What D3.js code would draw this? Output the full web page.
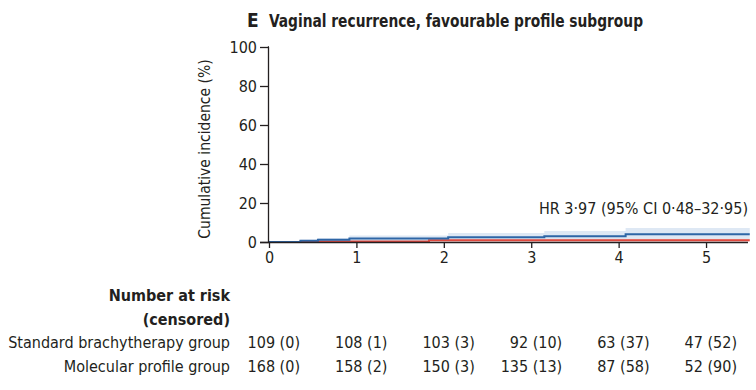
<!DOCTYPE html>
<html><head><meta charset="utf-8">
<script src="https://cdn.jsdelivr.net/npm/d3@7"></script>
<style>
body{margin:0;background:#fff;}
text{font-family:"Liberation Sans Narrow","DejaVu Sans Condensed",sans-serif;fill:#231f20;}
</style></head><body>
<svg id="c" width="756" height="390"></svg>
<script>
const xTicks = [0,1,2,3,4,5];
const yTicks = [0,20,40,60,80,100];
// step curves: [time (years), cumulative incidence (%)]
const standardCurve = [[0,0],[0.36,0.6],[0.56,1.1],[0.92,1.8],[2.05,2.4],[3.15,3.0],[4.08,4.0],[5.5,4.0]];
const standardUpper = [[0,0],[0.36,1.2],[0.56,1.9],[0.92,3.3],[2.05,4.6],[3.15,5.6],[4.08,7.2],[5.5,7.2]];
const standardLower = [[0,0],[0.36,0],[0.56,0.2],[0.92,0.5],[2.05,0.9],[3.15,1.2],[4.08,1.7],[5.5,1.7]];
const molecularCurve = [[0,0],[0.36,0.3],[1.83,0.9],[5.5,0.9]];
const molecularUpper = [[0,0],[0.36,0.8],[1.83,1.8],[5.5,1.8]];
const molecularLower = [[0,0],[0.36,0],[1.83,0.2],[5.5,0.2]];
const riskGroups = ["Standard brachytherapy group","Molecular profile group"];
const riskStandard = ["109 (0)","108 (1)","103 (3)","92 (10)","63 (37)","47 (52)"];
const riskMolecular = ["168 (0)","158 (2)","150 (3)","135 (13)","87 (58)","52 (90)"];

const svg = d3.select("#c");
const x = d3.scaleLinear().domain([0,5.48]).range([269,748]);
const y = d3.scaleLinear().domain([0,100]).range([242,47]);

// title
svg.append("text").attr("x",247).attr("y",27).style("font-size","19px").style("font-weight","bold").text("E");
svg.append("text").attr("x",269).attr("y",27).style("font-size","17px").style("font-weight","bold")
  .attr("textLength",374).attr("lengthAdjust","spacingAndGlyphs")
  .text("Vaginal recurrence, favourable profile subgroup");

// bands
const area = (up, lo) => d3.area().curve(d3.curveStepAfter).x(d=>x(d[0])).y1(d=>y(d[1])).y0((d,i)=>y(lo[i][1]));
svg.append("path").datum(molecularUpper).attr("d", area(molecularUpper, molecularLower)).attr("fill","#f5d3cf").attr("opacity",0.9);
svg.append("path").datum(standardUpper).attr("d", area(standardUpper, standardLower)).attr("fill","#d6e2f1").attr("opacity",0.8);

const line = d3.line().curve(d3.curveStepAfter).x(d=>x(d[0])).y(d=>y(d[1]));
svg.append("path").datum(molecularCurve).attr("d",line).attr("fill","none").attr("stroke","#e0483e").attr("stroke-width",2);
svg.append("path").datum(standardCurve).attr("d",line).attr("fill","none").attr("stroke","#2e66a6").attr("stroke-width",2);

// axes
const ya = svg.append("g").attr("transform","translate(269,0)")
  .call(d3.axisLeft(y).tickValues(yTicks).tickSize(9).tickPadding(3));
ya.select(".domain").attr("d","M0,47H-0.5V242").attr("stroke","#231f20").attr("stroke-width",1.3);
ya.selectAll(".tick line").attr("stroke","#231f20").attr("stroke-width",1.3);
ya.selectAll(".tick text").style("font-size","16px").style("font-family","Liberation Sans Narrow, DejaVu Sans Condensed, sans-serif").attr("fill","#231f20");

const xa = svg.append("g").attr("transform","translate(0,242)")
  .call(d3.axisBottom(x).tickValues(xTicks).tickSize(6).tickPadding(4).tickFormat(d3.format("d")));
xa.select(".domain").attr("d","M260,0.5H748").attr("stroke","#231f20").attr("stroke-width",1.3);
xa.selectAll(".tick line").attr("stroke","#231f20").attr("stroke-width",1.3);
xa.selectAll(".tick text").style("font-size","16px").style("font-family","Liberation Sans Narrow, DejaVu Sans Condensed, sans-serif").attr("fill","#231f20");

svg.append("text").attr("transform","translate(210,149) rotate(-90)").attr("text-anchor","middle")
  .style("font-size","15.5px").text("Cumulative incidence (%)");

svg.append("text").attr("x",748).attr("y",214).attr("text-anchor","end").style("font-size","16px")
  .text("HR 3·97 (95% CI 0·48–32·95)");

// risk table
svg.append("text").attr("x",230).attr("y",301).attr("text-anchor","end").style("font-size","16px").style("font-weight","bold").text("Number at risk");
svg.append("text").attr("x",230).attr("y",325).attr("text-anchor","end").style("font-size","16px").style("font-weight","bold").text("(censored)");
const rows = [riskStandard, riskMolecular];
rows.forEach((r,i)=>{
  const yy = 348 + i*24;
  svg.append("text").attr("x",230).attr("y",yy).attr("text-anchor","end").style("font-size","16px").text(riskGroups[i]);
  svg.selectAll(null).data(r).enter().append("text")
    .attr("x",(d,j)=>x(xTicks[j])+31).attr("y",yy).attr("text-anchor","end").style("font-size","16px").text(d=>d);
});
</script></body></html>
